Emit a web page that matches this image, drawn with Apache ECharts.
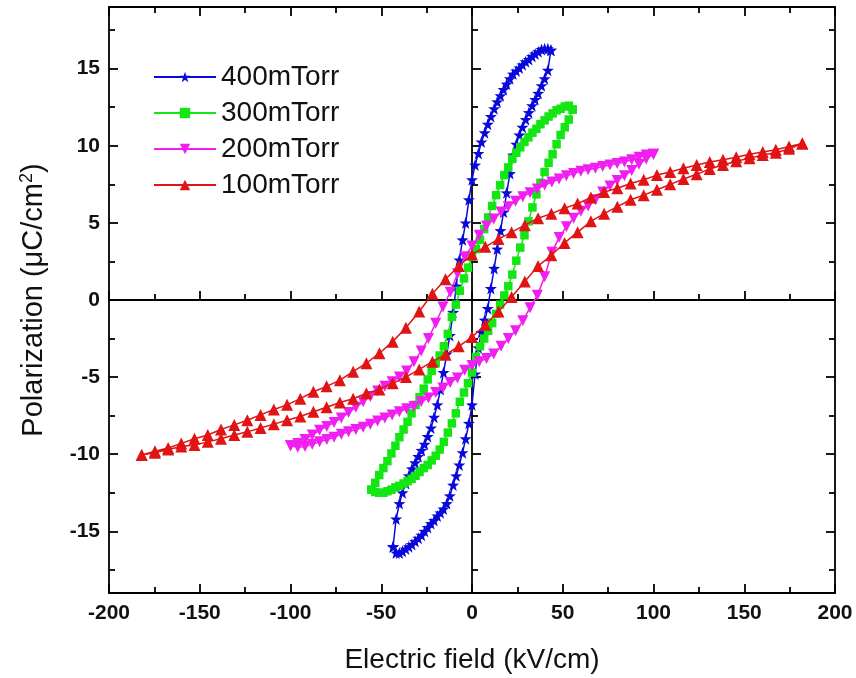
<!DOCTYPE html>
<html>
<head>
<meta charset="utf-8">
<title>P-E hysteresis loops</title>
<script src="https://cdn.jsdelivr.net/npm/echarts@6/dist/echarts.min.js"></script>
<style>
  html, body { margin: 0; padding: 0; background: #fff; }
  #chart { width: 856px; height: 678px; }
</style>
</head>
<body>
<div id="chart"></div>
<script>
// field values of each loop, from +Emax down to -Emax (kV/cm)
const field400 = [43.5, 41.8, 40, 38.3, 36.5, 34.8, 33.1, 31.3, 29.6, 27.8, 26.1, 24.4, 22.6, 20.9, 19.1, 17.4, 15.7, 13.9, 12.2, 10.4, 8.7, 7, 5.2, 3.5, 1.7, 0, -1.7, -3.5, -5.2, -7, -8.7, -10.4, -12.2, -13.9, -15.7, -17.4, -19.1, -20.9, -22.6, -24.4, -26.1, -27.8, -29.6, -31.3, -33.1, -34.8, -36.5, -38.3, -40, -41.8, -43.5];
const field300 = [55.5, 53.3, 51.1, 48.8, 46.6, 44.4, 42.2, 40, 37.7, 35.5, 33.3, 31.1, 28.9, 26.6, 24.4, 22.2, 20, 17.8, 15.5, 13.3, 11.1, 8.9, 6.7, 4.4, 2.2, 0, -2.2, -4.4, -6.7, -8.9, -11.1, -13.3, -15.5, -17.8, -20, -22.2, -24.4, -26.6, -28.9, -31.1, -33.3, -35.5, -37.7, -40, -42.2, -44.4, -46.6, -48.8, -51.1, -53.3, -55.5];
const field200 = [100, 96, 92, 88, 84, 80, 76, 72, 68, 64, 60, 56, 52, 48, 44, 40, 36, 32, 28, 24, 20, 16, 12, 8, 4, 0, -4, -8, -12, -16, -20, -24, -28, -32, -36, -40, -44, -48, -52, -56, -60, -64, -68, -72, -76, -80, -84, -88, -92, -96, -100];
const field100 = [182, 174.7, 167.4, 160.2, 152.9, 145.6, 138.3, 131, 123.8, 116.5, 109.2, 101.9, 94.6, 87.4, 80.1, 72.8, 65.5, 58.2, 51, 43.7, 36.4, 29.1, 21.8, 14.6, 7.3, 0, -7.3, -14.6, -21.8, -29.1, -36.4, -43.7, -51, -58.2, -65.5, -72.8, -80.1, -87.4, -94.6, -101.9, -109.2, -116.5, -123.8, -131, -138.3, -145.6, -152.9, -160.2, -167.4, -174.7, -182];

// polarization (uC/cm2): upper branch (field going down) and lower branch (field going up), both listed at the field values above
const up400 = [16.2, 16.3, 16.3, 16.25, 16.1, 15.95, 15.8, 15.6, 15.45, 15.25, 15.05, 14.85, 14.65, 14.35, 14.0, 13.65, 13.25, 12.85, 12.4, 11.9, 11.4, 10.85, 10.25, 9.5, 8.75, 7.8, 6.5, 5.0, 3.9, 2.6, 0.9, -0.8, -2.3, -3.5, -4.7, -5.8, -6.8, -7.6, -8.3, -8.85, -9.35, -9.75, -10.15, -10.55, -10.95, -11.4, -11.9, -12.5, -13.2, -14.2, -16.0];
const low400 = [16.2, 14.9, 14.35, 13.9, 13.4, 13.0, 12.6, 12.15, 11.7, 11.2, 10.7, 10.1, 9.4, 8.2, 6.95, 5.7, 4.5, 3.3, 2.05, 0.75, -0.55, -1.3, -2.1, -3.1, -4.8, -6.8, -8.0, -9.0, -9.9, -10.7, -11.4, -12.0, -12.7, -13.2, -13.55, -13.8, -14.0, -14.3, -14.5, -14.75, -15.0, -15.25, -15.45, -15.65, -15.85, -16.0, -16.15, -16.3, -16.4, -16.4, -16.0];
const up300 = [12.35, 12.6, 12.55, 12.4, 12.3, 12.1, 11.9, 11.65, 11.4, 11.1, 10.85, 10.55, 10.25, 9.9, 9.55, 9.15, 8.6, 8.1, 7.45, 6.8, 6.1, 5.35, 4.6, 3.9, 3.3, 2.8, 2.1, 1.4, 0.6, -0.3, -1.1, -2.2, -3.0, -3.6, -4.1, -4.6, -5.15, -5.75, -6.3, -6.8, -7.35, -7.9, -8.4, -8.9, -9.45, -9.95, -10.45, -10.9, -11.35, -11.85, -12.3];
const low300 = [12.35, 11.7, 11.2, 10.7, 10.1, 9.45, 8.9, 8.3, 7.6, 6.85, 6.0, 5.1, 4.2, 3.4, 2.55, 1.65, 0.9, 0.3, -0.3, -0.9, -1.5, -2.0, -2.5, -3.0, -3.7, -4.7, -5.4, -6.0, -6.6, -7.35, -8.0, -8.6, -9.2, -9.7, -10.1, -10.4, -10.7, -10.9, -11.15, -11.4, -11.6, -11.75, -11.9, -12.05, -12.15, -12.3, -12.4, -12.5, -12.5, -12.45, -12.3];
const up200 = [9.45, 9.4, 9.25, 9.1, 8.95, 8.85, 8.75, 8.65, 8.55, 8.45, 8.35, 8.2, 8.05, 7.85, 7.65, 7.45, 7.2, 6.95, 6.7, 6.4, 6.05, 5.7, 5.25, 4.8, 4.2, 3.5, 2.8, 1.7, 0.5, -0.45, -1.5, -2.5, -3.3, -4.0, -4.6, -5.0, -5.3, -5.6, -5.9, -6.25, -6.6, -6.95, -7.3, -7.65, -7.95, -8.2, -8.45, -8.75, -9.05, -9.3, -9.45];
const low200 = [9.45, 9.15, 8.8, 8.4, 8.05, 7.75, 7.4, 7.0, 6.5, 6.1, 5.75, 5.3, 4.75, 4.05, 3.1, 1.5, 0.3, -0.5, -1.35, -2.0, -2.5, -3.0, -3.5, -3.8, -4.0, -4.25, -4.55, -5.05, -5.35, -5.7, -6.0, -6.35, -6.6, -6.9, -7.05, -7.25, -7.45, -7.65, -7.85, -8.05, -8.25, -8.4, -8.55, -8.7, -8.9, -9.05, -9.2, -9.35, -9.5, -9.55, -9.45];
const up100 = [10.15, 9.95, 9.75, 9.6, 9.45, 9.25, 9.1, 8.95, 8.75, 8.55, 8.3, 8.1, 7.8, 7.55, 7.25, 7.0, 6.65, 6.25, 5.95, 5.6, 5.3, 4.85, 4.4, 3.95, 3.45, 2.95, 2.2, 1.35, 0.4, -0.75, -1.8, -2.7, -3.45, -4.1, -4.65, -5.2, -5.6, -5.95, -6.4, -6.8, -7.1, -7.45, -7.8, -8.1, -8.4, -8.75, -9.0, -9.3, -9.6, -9.8, -10.05];
const low100 = [10.15, 9.8, 9.55, 9.4, 9.2, 9.0, 8.75, 8.5, 8.15, 7.85, 7.5, 7.15, 6.8, 6.5, 6.05, 5.6, 5.1, 4.4, 3.7, 2.9, 2.2, 1.2, 0.2, -0.75, -1.6, -2.4, -3.0, -3.55, -4.0, -4.5, -5.0, -5.4, -5.8, -6.05, -6.4, -6.65, -6.95, -7.25, -7.55, -7.8, -8.05, -8.3, -8.55, -8.75, -9.0, -9.2, -9.4, -9.5, -9.7, -9.9, -10.05];

const seriesNames = ["400mTorr", "300mTorr", "200mTorr", "100mTorr"];
const seriesColors = ["#0808dc", "#14e614", "#f01ef0", "#e01414"];

const xTicks = [-200, -150, -100, -50, 0, 50, 100, 150, 200];
const yMajor = [-15, -10, -5, 0, 5, 10, 15];
const yMinor = [-17.5, -12.5, -7.5, -2.5, 2.5, 7.5, 12.5, 17.5];

const FONT = "Liberation Sans";
const starPath = "path://M0,-10 L2.35,-3.24 L9.51,-3.09 L3.8,1.24 L5.88,8.09 L0,4 L-5.88,8.09 L-3.8,1.24 L-9.51,-3.09 L-2.35,-3.24 Z";

// upper branch then lower branch back to +Emax, so the loop closes
function loopPoints(field, up, low) {
  let pts = field.map((e, i) => [e, up[i]]);
  for (let i = field.length - 1; i >= 0; i--) {
    pts.push([field[i], low[i]]);
  }
  return pts;
}

const loops = [
  loopPoints(field400, up400, low400),
  loopPoints(field300, up300, low300),
  loopPoints(field200, up200, low200),
  loopPoints(field100, up100, low100),
];
const symbols = [
  { symbol: starPath, size: 12, rotate: 0 },
  { symbol: "rect", size: 8.5, rotate: 0 },
  { symbol: "triangle", size: 11, rotate: 180 },
  { symbol: "triangle", size: 12, rotate: 0 },
];

const black = { color: "#000", width: 1.8 };

function xFrame(position, showLabel) {
  return {
    type: "value",
    position: position,
    min: xTicks[0],
    max: xTicks[xTicks.length - 1],
    interval: 50,
    axisLine: { show: true, onZero: false, lineStyle: black },
    axisTick: { show: true, inside: true, length: 9, lineStyle: black },
    minorTick: { show: true, splitNumber: 2, length: 6, lineStyle: black },
    axisLabel: {
      show: showLabel,
      color: "#111",
      fontFamily: FONT,
      fontWeight: "bold",
      fontSize: 21,
      margin: 10,
    },
    splitLine: { show: false },
  };
}

function yFrame(position, ticks, len, showLine, showLabel, onZero) {
  return {
    type: "value",
    position: position,
    min: -19,
    max: 19,
    axisLine: { show: showLine, onZero: onZero, onZeroAxisIndex: 0, lineStyle: black },
    axisTick: { show: true, inside: true, length: len, customValues: ticks, lineStyle: black },
    axisLabel: {
      show: showLabel,
      customValues: yMajor,
      color: "#111",
      fontFamily: FONT,
      fontWeight: "bold",
      fontSize: 21,
      margin: 9,
    },
    splitLine: { show: false },
  };
}

const chart = echarts.init(document.getElementById("chart"));

let xAxes = [xFrame("bottom", true), xFrame("top", false), xFrame("bottom", false)];
xAxes[0].name = "Electric field (kV/cm)";
xAxes[0].nameLocation = "middle";
xAxes[0].nameGap = 53;
xAxes[0].nameTextStyle = { fontFamily: FONT, fontSize: 28, color: "#111" };
// axis through P = 0
xAxes[2].axisLine.onZero = true;
xAxes[2].axisLine.onZeroAxisIndex = 0;

let yAxes = [
  yFrame("left", yMajor, 9, true, true, false),
  yFrame("left", yMinor, 6, false, false, false),
  yFrame("right", yMajor, 9, true, false, false),
  yFrame("right", yMinor, 6, false, false, false),
  yFrame("left", yMajor, 9, true, false, true),
  yFrame("left", yMinor, 6, false, false, true),
];
yAxes[0].name = "Polarization (\u03bcC/cm{s|2})";
yAxes[0].nameLocation = "middle";
yAxes[0].nameGap = 59;
yAxes[0].nameTextStyle = {
  fontFamily: FONT,
  fontSize: 29,
  color: "#111",
  rich: { s: { fontFamily: FONT, fontSize: 18, color: "#111", verticalAlign: "top", padding: [0, 0, 14, 0] } },
};

// lines (these carry the legend) and, on top, every measured point as a marker
let series = [];
loops.forEach((pts, k) => {
  series.push({
    name: seriesNames[k],
    type: "line",
    data: pts,
    symbol: symbols[k].symbol,
    symbolSize: symbols[k].size,
    symbolRotate: symbols[k].rotate,
    showSymbol: false,
    lineStyle: { color: seriesColors[k], width: 1.5 },
    itemStyle: { color: seriesColors[k], borderWidth: 0 },
    emphasis: { disabled: true },
    z: 3 + 2 * k,
  });
  series.push({
    name: seriesNames[k] + " points",
    type: "scatter",
    data: pts,
    symbol: symbols[k].symbol,
    symbolSize: symbols[k].size,
    symbolRotate: symbols[k].rotate,
    itemStyle: { color: seriesColors[k], opacity: 1 },
    emphasis: { disabled: true },
    z: 4 + 2 * k,
  });
});

const option = {
  animation: false,
  backgroundColor: "#fff",
  grid: { left: 109, right: 21, top: 7, bottom: 85, outerBoundsMode: "none" },
  legend: {
    data: seriesNames,
    orient: "vertical",
    left: 148,
    top: 58,
    itemWidth: 62,
    itemHeight: 13,
    itemGap: 8,
    textStyle: { fontFamily: FONT, fontSize: 28, color: "#111" },
  },
  xAxis: xAxes,
  yAxis: yAxes,
  series: series,
};

chart.setOption(option);
</script>
</body>
</html>
